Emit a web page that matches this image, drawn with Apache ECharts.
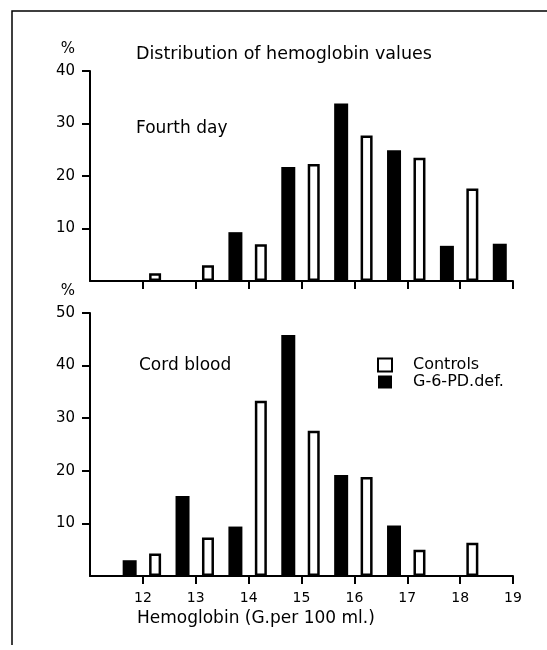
<!DOCTYPE html>
<html>
<head>
<meta charset="utf-8">
<script src="https://cdn.jsdelivr.net/npm/echarts@6/dist/echarts.min.js"></script>
<style>
  html, body { margin: 0; padding: 0; background: #fff; }
  #chart { width: 547px; height: 650px; }
</style>
</head>
<body>
<div id="chart"></div>
<script>
// hemoglobin bin midpoints (G per 100 ml)
const controlsMid = [12.25, 13.25, 14.25, 15.25, 16.25, 17.25, 18.25];
const deficientMid = [11.75, 12.75, 13.75, 14.75, 15.75, 16.75, 17.75, 18.75];

// percent of cases, fourth day
const fourthControls = [1.5, 3, 7, 22.3, 27.7, 23.5, 17.6];
const fourthDeficient = [null, null, 9.3, 21.7, 33.8, 24.9, 6.7, 7.1];

// percent of cases, cord blood
const cordControls = [4.3, 7.3, 33.3, 27.6, 18.8, 5.0, 6.3];
const cordDeficient = [3.0, 15.2, 9.4, 45.8, 19.2, 9.6, null, null];

const xTicks = [12, 13, 14, 15, 16, 17, 18, 19];
const yTicksTop = [10, 20, 30, 40];
const yTicksBottom = [10, 20, 30, 40, 50];

const FONT = 'DejaVu Sans';

function pairs(xs, ys) {
  return xs.map((x, i) => [x, ys[i]]).filter(p => p[1] != null);
}

function xAxisOf(idx, showLabels) {
  return {
    type: 'value', gridIndex: idx, min: 11, max: 19, interval: 1,
    axisLine: { show: true, lineStyle: { color: '#000', width: 2 } },
    axisTick: { show: true, length: 8, customValues: xTicks, lineStyle: { color: '#000', width: 2 } },
    axisLabel: {
      show: showLabels, customValues: xTicks, color: '#000',
      fontFamily: FONT, fontSize: 14, margin: 15
    },
    splitLine: { show: false },
    name: showLabels ? 'Hemoglobin (G.per 100 ml.)' : '',
    nameLocation: 'start',
    nameGap: 0,
    nameTextStyle: {
      color: '#000', fontFamily: FONT, fontSize: 17,
      align: 'left', verticalAlign: 'top', padding: [34, 0, 0, 47]
    }
  };
}

function yAxisOf(idx, max, ticks) {
  return {
    type: 'value', gridIndex: idx, min: 0, max: max, interval: 10,
    name: '%', nameLocation: 'end', nameGap: 14,
    nameTextStyle: { color: '#000', fontFamily: FONT, fontSize: 15, align: 'right', padding: [0, 15, 0, 0] },
    axisLine: { show: true, lineStyle: { color: '#000', width: 2 } },
    axisTick: { show: true, length: 8, customValues: ticks, lineStyle: { color: '#000', width: 2 } },
    axisLabel: { customValues: ticks, color: '#000', fontFamily: FONT, fontSize: 15, margin: 15 },
    splitLine: { show: false }
  };
}

function controlsSeries(idx, data) {
  return {
    name: 'Controls', type: 'bar', xAxisIndex: idx, yAxisIndex: idx,
    barWidth: 12, barGap: '-100%',
    itemStyle: { color: '#fff', borderColor: '#000', borderWidth: 2.5 },
    data: data
  };
}

function deficientSeries(idx, data) {
  return {
    name: 'G-6-PD.def.', type: 'bar', xAxisIndex: idx, yAxisIndex: idx,
    barWidth: 14, barGap: '-100%',
    itemStyle: { color: '#000' },
    data: data
  };
}

const myChart = echarts.init(document.getElementById('chart'));
const option = {
  animation: false,
  backgroundColor: '#fff',
  title: [
    { text: 'Distribution of hemoglobin values', left: 131, top: 40,
      textStyle: { color: '#000', fontFamily: FONT, fontSize: 17.5, fontWeight: 'normal' } },
    { text: 'Fourth day', left: 131, top: 115,
      textStyle: { color: '#000', fontFamily: FONT, fontSize: 17, fontWeight: 'normal' } },
    { text: 'Cord blood', left: 134, top: 352,
      textStyle: { color: '#000', fontFamily: FONT, fontSize: 17, fontWeight: 'normal' } }
  ],
  legend: {
    orient: 'vertical', left: 372, top: 352,
    itemWidth: 14, itemHeight: 13, itemGap: 1,
    icon: 'rect',
    textStyle: { color: '#000', fontFamily: FONT, fontSize: 16, padding: [0, 0, 0, 16] },
    data: [
      { name: 'Controls', itemStyle: { color: '#fff', borderColor: '#000', borderWidth: 2 } },
      { name: 'G-6-PD.def.', itemStyle: { color: '#000' } }
    ]
  },
  grid: [
    { left: 90, top: 71, width: 423, height: 210 },
    { left: 90, top: 313, width: 423, height: 263 }
  ],
  xAxis: [xAxisOf(0, false), xAxisOf(1, true)],
  yAxis: [yAxisOf(0, 40, yTicksTop), yAxisOf(1, 50, yTicksBottom)],
  series: [
    controlsSeries(0, pairs(controlsMid, fourthControls)),
    deficientSeries(0, pairs(deficientMid, fourthDeficient)),
    controlsSeries(1, pairs(controlsMid, cordControls)),
    deficientSeries(1, pairs(deficientMid, cordDeficient))
  ],
  graphic: [
    { type: 'polyline', silent: true,
      shape: { points: [[12, 645], [12, 11], [547, 11]] },
      style: { stroke: '#000', lineWidth: 1.5, fill: null } }
  ]
};
myChart.setOption(option);
</script>
</body>
</html>
